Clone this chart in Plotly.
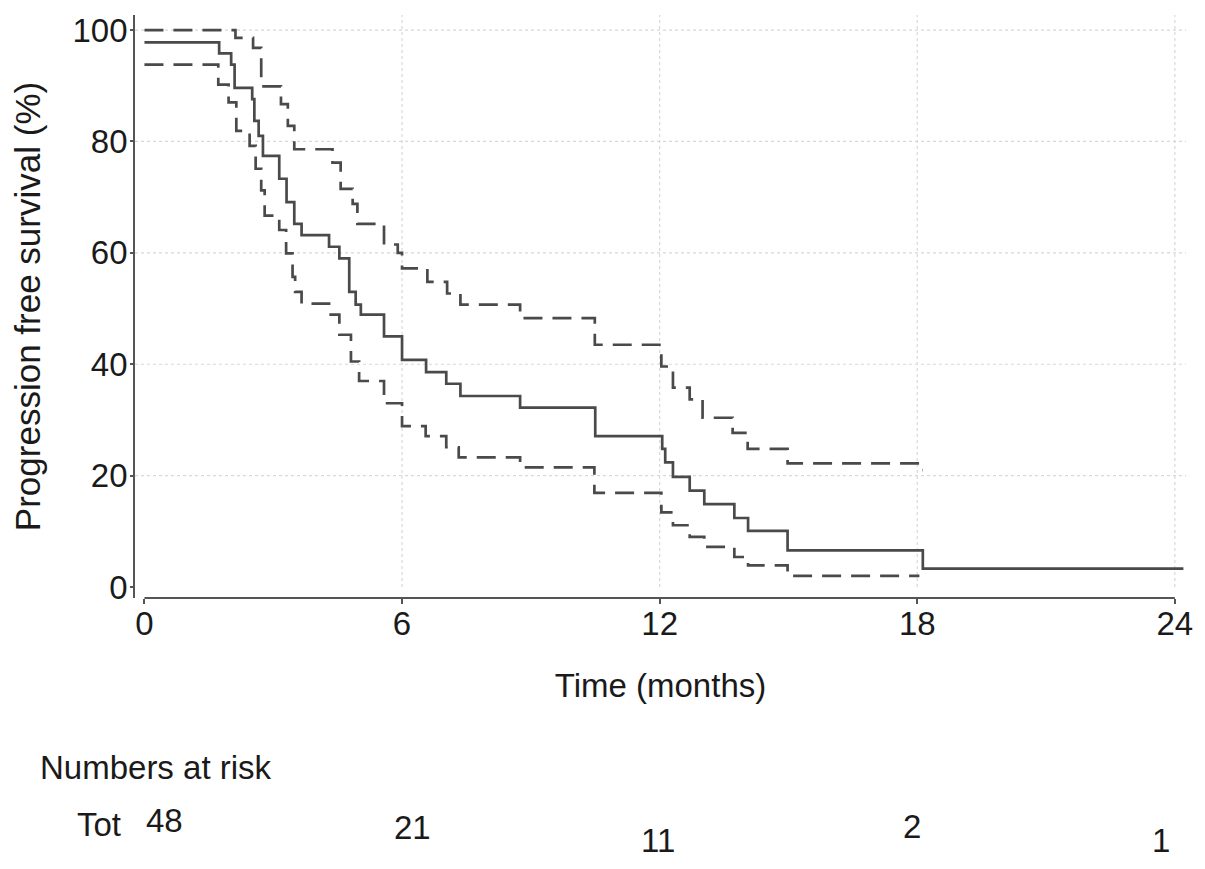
import plotly.graph_objects as go

# Kaplan-Meier estimate (step change times, survival after the change, %)
est_time = [0, 1.74, 2.02, 2.10, 2.51, 2.56, 2.66, 2.76, 3.14, 3.31, 3.49, 3.66, 4.30, 4.54,
            4.77, 4.92, 5.04, 5.58, 6.00, 6.56, 7.03, 7.36, 8.75, 10.50, 12.06, 12.13, 12.31,
            12.70, 13.04, 13.74, 14.06, 14.98, 18.13, 24.2]
est_surv = [97.8, 95.8, 93.8, 89.6, 87.6, 83.7, 81.0, 77.4, 73.3, 69.1, 65.2, 63.2, 61.1, 59.0,
            53.0, 50.7, 48.9, 45.0, 40.8, 38.6, 36.5, 34.3, 32.2, 27.1, 24.8, 22.4, 19.8,
            17.3, 14.9, 12.4, 10.1, 6.6, 3.3, 3.3]

# Upper confidence limit
upper_time = [0, 2.12, 2.53, 2.72, 3.18, 3.34, 3.49, 4.38, 4.57, 4.85, 4.96, 5.58, 5.90, 6.00,
              6.59, 7.05, 7.36, 8.75, 10.49, 12.04, 12.31, 12.70, 13.00, 13.70, 14.05, 14.98,
              18.10, 18.13]
upper_surv = [100.0, 98.6, 96.8, 89.9, 86.7, 82.8, 78.6, 76.2, 71.5, 68.8, 65.2, 61.5, 60.0, 57.2,
              54.8, 52.7, 50.7, 48.3, 43.5, 39.6, 35.8, 33.7, 30.4, 27.7, 24.8, 22.2,
              21.0, 21.0]

# Lower confidence limit
lower_time = [0, 1.72, 1.96, 2.14, 2.45, 2.59, 2.72, 2.80, 3.14, 3.30, 3.45, 3.51, 3.66, 4.30,
              4.54, 4.81, 5.00, 5.58, 6.00, 6.55, 7.03, 7.32, 8.75, 10.48, 12.04, 12.31, 12.70,
              13.04, 13.74, 14.06, 14.98, 18.05]
lower_surv = [93.8, 90.2, 87.0, 81.9, 79.2, 75.1, 71.2, 66.7, 64.1, 59.9, 55.7, 53.0, 50.9, 48.9,
              45.3, 40.5, 37.0, 33.0, 28.9, 27.1, 25.1, 23.3, 21.5, 16.9, 13.4, 11.1, 9.0,
              7.2, 5.4, 3.9, 2.0, 2.0]

x_ticks = [0, 6, 12, 18, 24]
y_ticks = [0, 20, 40, 60, 80, 100]

risk_times = [0, 6, 12, 18, 24]
risk_numbers = [48, 21, 11, 2, 1]

FONT = "Liberation Sans, Arial, sans-serif"
LINE_COL = "#4a4a4a"
TXT_COL = "#1a1a1a"
FS = 33

fig = go.Figure()
fig.add_trace(go.Scatter(x=upper_time, y=upper_surv, mode="lines", line_shape="hv",
                         line=dict(color=LINE_COL, width=2.7, dash="19px,10px"),
                         showlegend=False, hoverinfo="skip"))
fig.add_trace(go.Scatter(x=lower_time, y=lower_surv, mode="lines", line_shape="hv",
                         line=dict(color=LINE_COL, width=2.7, dash="19px,10px"),
                         showlegend=False, hoverinfo="skip"))
fig.add_trace(go.Scatter(x=est_time, y=est_surv, mode="lines", line_shape="hv",
                         line=dict(color=LINE_COL, width=2.7),
                         showlegend=False, hoverinfo="skip"))

shapes = []
for xv in x_ticks[1:]:
    shapes.append(dict(type="line", xref="x", yref="y", x0=xv, x1=xv, y0=0, y1=102.7,
                       line=dict(color="#d8d8d8", width=1.2, dash="dot"), layer="below"))
for yv in y_ticks[1:]:
    shapes.append(dict(type="line", xref="paper", yref="y", x0=0, x1=1, y0=yv, y1=yv,
                       line=dict(color="#d8d8d8", width=1.2, dash="dot"), layer="below"))
shapes.append(dict(type="line", xref="x", yref="paper", x0=x_ticks[0], x1=x_ticks[-1], y0=0, y1=0,
                   line=dict(color="#555555", width=1.8)))

annotations = [
    dict(text="Numbers at risk", xref="paper", yref="paper", x=-0.092, y=(598 - 768) / 586.0,
         xanchor="left", yanchor="middle", showarrow=False,
         font=dict(family=FONT, size=FS, color=TXT_COL)),
    dict(text="Tot", xref="paper", yref="paper", x=-0.057, y=(598 - 826) / 586.0,
         xanchor="left", yanchor="middle", showarrow=False,
         font=dict(family=FONT, size=FS, color=TXT_COL)),
]
x_shifts = [20, 10, -2, -5, -14]
y_pix = [822, 829, 842, 828, 842]
for t, n, xs, yp in zip(risk_times, risk_numbers, x_shifts, y_pix):
    annotations.append(dict(text=str(n), xref="x", yref="paper", x=t,
                            y=(598 - yp) / 586.0, xanchor="center", yanchor="middle",
                            xshift=xs, showarrow=False,
                            font=dict(family=FONT, size=FS, color=TXT_COL)))

fig.update_layout(
    width=1189, height=853,
    margin=dict(l=127, r=7, t=4, b=263),
    paper_bgcolor="white", plot_bgcolor="white",
    font=dict(family=FONT, size=FS, color=TXT_COL),
    shapes=shapes, annotations=annotations,
    xaxis=dict(range=[-0.22, 24.26], tickvals=x_ticks, ticktext=[str(v) for v in x_ticks],
               showgrid=False, zeroline=False, showline=False,
               ticks="outside", ticklen=5, tickcolor="#555555", tickwidth=1.5,
               ticklabelstandoff=-9, ticklabeloverflow="allow",
               title=dict(text="Time (months)", standoff=33,
                          font=dict(family=FONT, size=FS, color=TXT_COL)),
               tickfont=dict(family=FONT, size=FS, color=TXT_COL)),
    yaxis=dict(range=[-1.96, 102.7], tickvals=y_ticks, ticktext=[str(v) for v in y_ticks],
               showgrid=False, zeroline=False, showline=True, linecolor="#555555", linewidth=1.8,
               ticks="outside", ticklen=3, tickcolor="#555555", tickwidth=1.5,
               ticklabelstandoff=-4, ticklabeloverflow="allow",
               title=dict(text="Progression free survival (%)", standoff=36,
                          font=dict(family=FONT, size=35, color=TXT_COL)),
               tickfont=dict(family=FONT, size=FS, color=TXT_COL)),
)

fig.write_html("out.html")
